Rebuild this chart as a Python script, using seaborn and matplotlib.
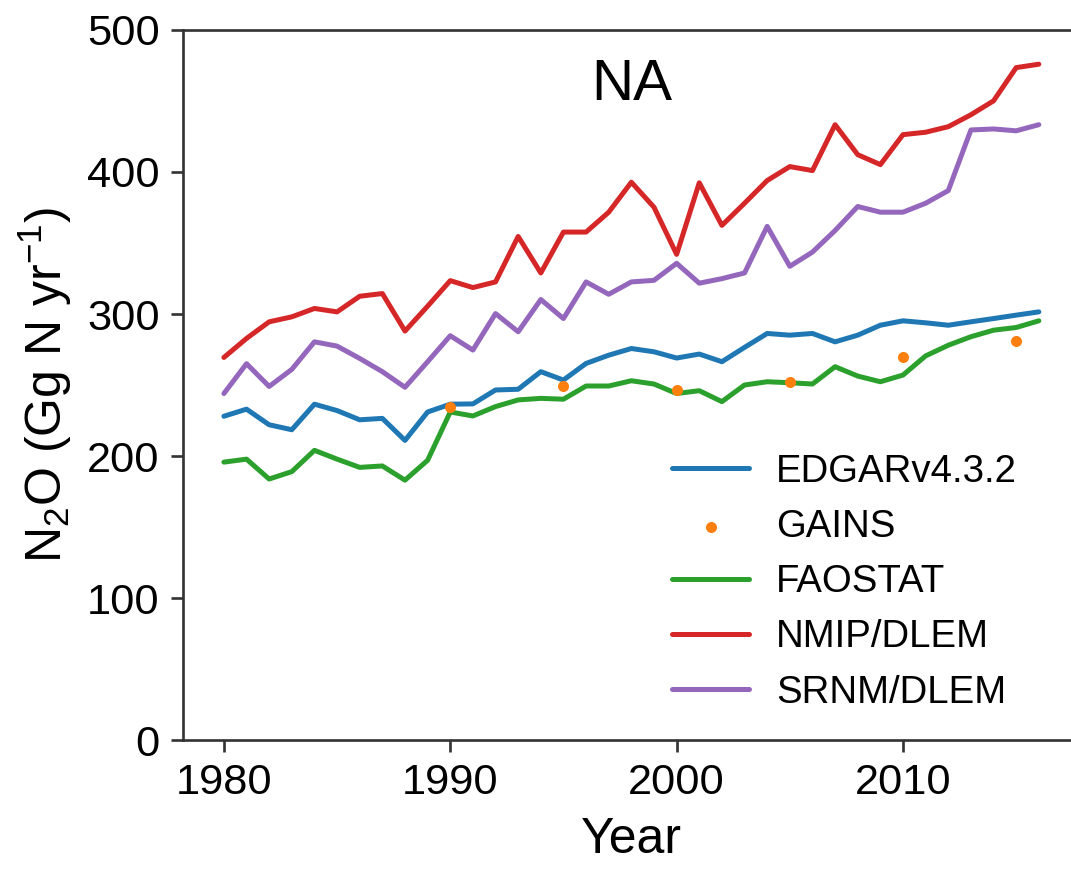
import matplotlib
matplotlib.use("Agg")
import matplotlib.pyplot as plt
import numpy as np
import pandas as pd
import seaborn as sns

years = list(range(1980, 2017))

edgar = [228, 233, 222, 218.5, 236.5, 232, 225.5, 226.5, 211, 231,
         236.5, 236.7, 246.5, 247, 259.4, 253.5, 265.2, 271, 275.7, 273.4,
         269, 271.8, 266.4, 276.5, 286.3, 285.1, 286.3, 280.4, 285.1, 292.1,
         295.2, 293.8, 292.1, 294.5, 296.8, 299.2, 301.5]
faostat = [195.7, 197.8, 183.8, 189, 204, 197.8, 192, 193, 183, 197,
           231, 228.2, 234.8, 239.5, 240.6, 240, 249.3, 249.3, 253, 250.7,
           244, 246, 238.3, 250, 252.3, 251.6, 250.7, 262.9, 256.3, 252.3,
           257, 270.5, 278, 284, 288.6, 290.5, 295.2]
nmip = [269.4, 282.8, 294.5, 298, 303.9, 301.5, 312.5, 314.4, 288, 305.5,
        323.5, 318.6, 322.6, 354.6, 328.9, 357.7, 357.7, 371.7, 392.8, 375.2,
        342, 392.4, 362.4, 378, 394, 403.8, 401, 433.3, 412.2, 405.2,
        426.3, 428, 431.9, 440.3, 450.1, 473.5, 475.9]
srnm = [244, 265, 249, 261, 280.4, 277.4, 268.7, 259.4, 248.4, 266.4,
        284.7, 274.6, 300.3, 287.5, 310.2, 296.8, 322.6, 313.9, 322.6, 323.7,
        335.7, 321.7, 324.9, 328.9, 361.7, 333.6, 343.6, 358.8, 375.7, 371.7,
        371.7, 378, 386.9, 429.6, 430.3, 429, 433.3]

gains_years = [1990, 1995, 2000, 2005, 2010, 2015]
gains = [234.8, 249.3, 246.5, 252.3, 269.9, 281]

sns.set_style("ticks")
plt.rcParams['font.family'] = ['Liberation Sans', 'DejaVu Sans']
plt.rcParams['mathtext.fontset'] = 'custom'
plt.rcParams['mathtext.rm'] = 'Liberation Sans'
plt.rcParams['mathtext.default'] = 'regular'
# plain black text like the original figure
for key in ['text.color', 'axes.labelcolor', 'xtick.labelcolor', 'ytick.labelcolor']:
    plt.rcParams[key] = 'black'
plt.rcParams['axes.edgecolor'] = '#333333'
plt.rcParams['xtick.color'] = '#333333'
plt.rcParams['ytick.color'] = '#333333'

df = pd.DataFrame({'Year': years, 'EDGARv4.3.2': edgar, 'FAOSTAT': faostat,
                   'NMIP/DLEM': nmip, 'SRNM/DLEM': srnm})
df_gains = pd.DataFrame({'Year': gains_years, 'GAINS': gains})

fig = plt.figure(figsize=(1071 / 240, 869 / 240), dpi=240)
ax = fig.add_axes([0.171, 0.1484, 0.837, 0.8171])

pal = sns.color_palette("tab10")
sns.lineplot(data=df, x='Year', y='EDGARv4.3.2', color=pal[0],
             label='EDGARv4.3.2', ax=ax)
sns.scatterplot(data=df_gains, x='Year', y='GAINS', color=pal[1], s=11,
                linewidth=0, label='GAINS', ax=ax, zorder=3)
sns.lineplot(data=df, x='Year', y='FAOSTAT', color=pal[2],
             label='FAOSTAT', ax=ax)
sns.lineplot(data=df, x='Year', y='NMIP/DLEM', color=pal[3],
             label='NMIP/DLEM', ax=ax)
sns.lineplot(data=df, x='Year', y='SRNM/DLEM', color=pal[4],
             label='SRNM/DLEM', ax=ax)

ax.set_ylim(0, 500)
ax.set_xlim(1978.2, 2017.8)
ax.set_xticks([1980, 1990, 2000, 2010])
ax.set_yticks(range(0, 501, 100))
ax.tick_params(labelsize=13)
ax.set_xlabel('Year', fontsize=15)
ax.set_ylabel('N$_2$O (Gg N yr$^{-1}$)', fontsize=15)
ax.text(0.5, 0.96, 'NA', transform=ax.transAxes, ha='center', va='top',
        fontsize=17.5)

ax.legend(loc='lower right', bbox_to_anchor=(0.947, 0.02), frameon=False,
          fontsize=11.5, labelspacing=0.5, borderaxespad=0,
          handletextpad=0.7)

fig.savefig('out.png', dpi=240)
